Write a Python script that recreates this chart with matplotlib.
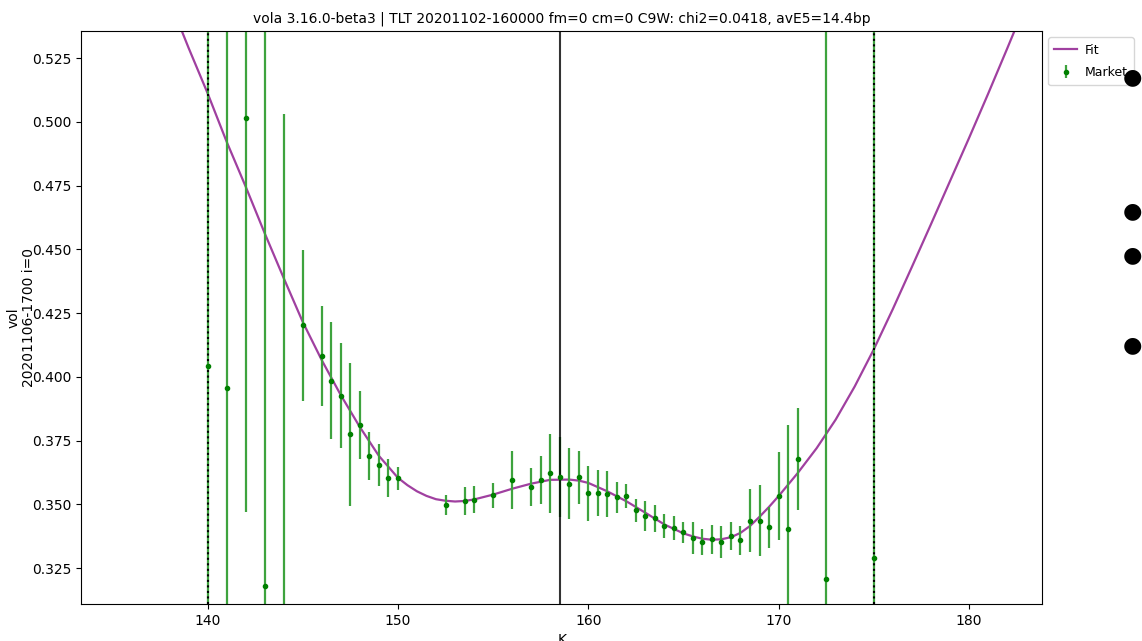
import matplotlib
matplotlib.use('Agg')
import matplotlib.pyplot as plt

# market quotes: strike, vol, half-width of the error bar
strikes = [140, 141, 142, 143, 144, 145, 146, 146.5, 147, 147.5,
           148, 148.5, 149, 149.5, 150, 152.5, 153.5, 154, 155, 156,
           157, 157.5, 158, 158.5, 159, 159.5, 160, 160.5, 161, 161.5,
           162, 162.5, 163, 163.5, 164, 164.5, 165, 165.5, 166, 166.5,
           167, 167.5, 168, 168.5, 169, 169.5, 170, 170.5, 171, 172.5, 175]
vols = [0.4044, 0.3957, 0.5016, 0.3180, 0.3000, 0.4202, 0.4081, 0.3985, 0.3926, 0.3775,
        0.3812, 0.3689, 0.3654, 0.3602, 0.3602, 0.3498, 0.3513, 0.3518, 0.3535, 0.3595,
        0.3569, 0.3595, 0.3621, 0.3606, 0.3581, 0.3607, 0.3544, 0.3544, 0.3539, 0.3527,
        0.3532, 0.3477, 0.3455, 0.3445, 0.3415, 0.3408, 0.3390, 0.3369, 0.3353, 0.3362,
        0.3353, 0.3377, 0.3359, 0.3436, 0.3436, 0.3410, 0.3534, 0.3403, 0.3676, 0.3207, 0.3288]
errs = [0.25, 0.25, 0.1545, 0.25, 0.2032, 0.0296, 0.0196, 0.0229, 0.0205, 0.0280,
        0.0134, 0.0094, 0.0082, 0.0074, 0.0046, 0.0040, 0.0054, 0.0053, 0.0049, 0.0115,
        0.0075, 0.0094, 0.0154, 0.0157, 0.0138, 0.0104, 0.0108, 0.0090, 0.0090, 0.0060,
        0.0046, 0.0045, 0.0058, 0.0054, 0.0046, 0.0048, 0.0040, 0.0062, 0.0052, 0.0058,
        0.0063, 0.0055, 0.0057, 0.0123, 0.0139, 0.0080, 0.0173, 0.0408, 0.0200, 0.25, 0.25]

# fitted smile
fit_k = [138.5, 139, 140, 141, 142, 143, 144, 145, 146, 147, 148, 149, 150, 150.5,
         151, 151.5, 152, 152.5, 153, 153.5, 154, 155, 156, 157, 158, 159, 159.5, 160,
         161, 162, 163, 164, 165, 165.5, 166, 166.5, 167, 167.5, 168, 168.5, 169, 169.5,
         170, 171, 172, 173, 174, 175, 176, 177, 178, 179, 180, 181, 182, 182.5]
fit_vol = [0.5383, 0.5290, 0.5112, 0.4922, 0.4746, 0.4563, 0.4387, 0.4215, 0.4065, 0.3928,
           0.3803, 0.3690, 0.3604, 0.3575, 0.3551, 0.3533, 0.3520, 0.3514, 0.3511, 0.3513,
           0.3519, 0.3538, 0.3561, 0.3581, 0.3596, 0.3597, 0.3593, 0.3584, 0.3551, 0.3512,
           0.3467, 0.3421, 0.3386, 0.3374, 0.3365, 0.3361, 0.3363, 0.3371, 0.3388, 0.3415,
           0.3451, 0.3490, 0.3532, 0.3622, 0.3720, 0.3832, 0.3962, 0.4107, 0.4265, 0.4430,
           0.4597, 0.4766, 0.4935, 0.5108, 0.5285, 0.5375]

spot = 158.5
k_bounds = [140, 175]

title = 'vola 3.16.0-beta3 | TLT 20201102-160000 fm=0 cm=0 C9W: chi2=0.0418, avE5=14.4bp'

fig = plt.figure(figsize=(11.42, 6.41), dpi=100)
ax = fig.add_axes([0.0713, 0.0577, 0.8411, 0.8939])

ax.plot(fit_k, fit_vol, color='purple', alpha=0.75, lw=1.6, label='Fit')
ax.errorbar(strikes, vols, yerr=errs, fmt='.', color='green', ecolor='#3ea33e',
            elinewidth=1.6, markersize=6, label='Market')

ax.axvline(spot, color='black', alpha=0.8, lw=1.5)
for k in k_bounds:
    ax.axvline(k, color='black', ls=':', lw=1.5)

ax.set_xlim(133.37, 183.84)
ax.set_ylim(0.3109, 0.5356)
ax.set_xticks([140, 150, 160, 170, 180])
ax.set_yticks([0.325, 0.35, 0.375, 0.4, 0.425, 0.45, 0.475, 0.5, 0.525])
ax.yaxis.set_major_formatter(matplotlib.ticker.FormatStrFormatter('%.3f'))
ax.set_title(title, fontsize=10)
ax.set_xlabel('K')
ax.set_ylabel('vol\n20201106-1700 i=0', labelpad=-2.5, linespacing=1.1)
ax.legend(loc='upper left', bbox_to_anchor=(1.0, 1.0), fontsize=9,
          labelspacing=0.75, handlelength=1.8, handletextpad=0.6, borderpad=0.5)

# black bullets at the right edge of the slide
for yy in [77, 211, 255, 345]:
    fig.text(0.992, 1 - yy / 641, '\u25cf', fontsize=16, ha='center', va='center')

fig.savefig('out.png', dpi=100)
